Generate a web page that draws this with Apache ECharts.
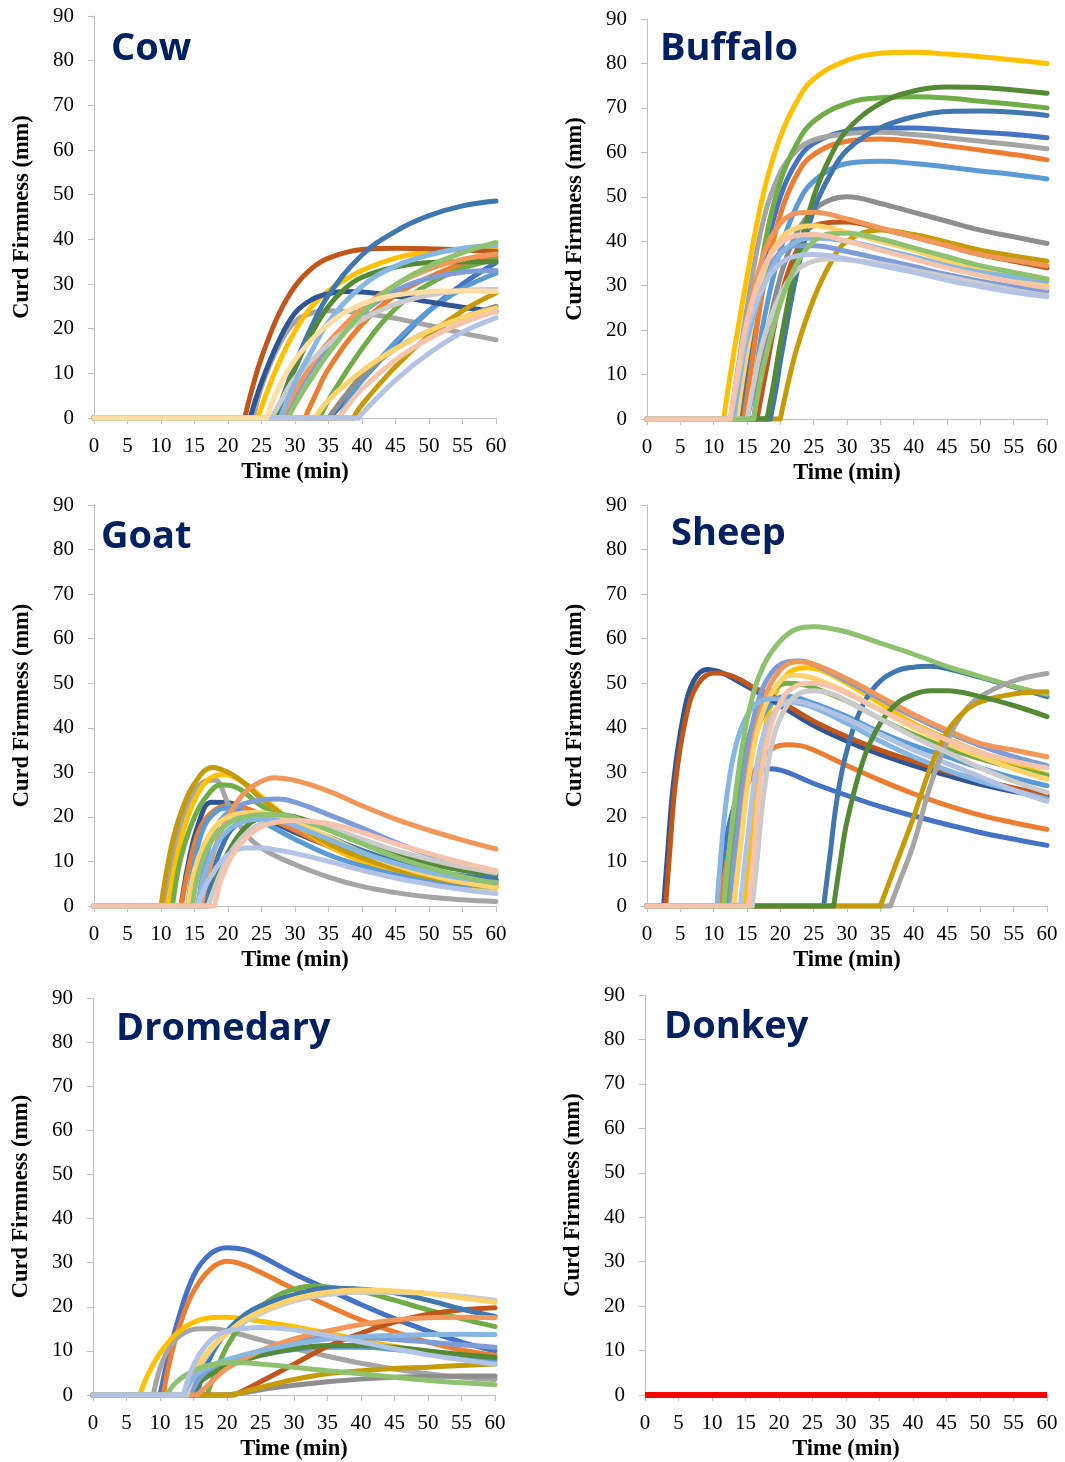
<!DOCTYPE html>
<html><head><meta charset="utf-8">
<script src="https://cdn.jsdelivr.net/npm/echarts@6/dist/echarts.min.js"></script>
<style>html,body{margin:0;padding:0;background:#fff}#c{width:1065px;height:1462px}</style>
</head><body><div id="c"></div>
<script>
// ---------- labels ----------
const panelNames = ['Cow', 'Buffalo', 'Goat', 'Sheep', 'Dromedary', 'Donkey'];
const xAxisTitle = 'Time (min)';
const yAxisTitle = 'Curd Firmness (mm)';
const timeRange = [0, 60, 5];
const firmRange = [0, 90, 10];

// ---------- palette ----------
const C = {
  blue: '#4472C4', orange: '#ED7D31', gray: '#A5A5A5', gold: '#FFC000', medBlue: '#5B9BD5', green: '#70AD47',
  darkBlue: '#2F5597', brown: '#C0561A', darkGray: '#8E8E8E', darkGold: '#C59B0A', steelBlue: '#3F77AE', darkGreen: '#548A35',
  lavender: '#7E9CD8', salmon: '#F1975A', lightGray: '#CBCBCB', lightGold: '#FFD36B', lightBlue: '#86B6E2', lightGreen: '#8FC26F',
  paleLavender: '#B3C3E6', paleSalmon: '#F6C4AC', peach: '#FFDDA3', red: '#FF0000'
};

// ---------- data: each curve = [time, firmness] points, from onset (firmness 0 before it) ----------
const cowColors = ['blue','orange','gray','gold','medBlue','green','darkBlue','brown','darkGray','darkGold','steelBlue','darkGreen','lavender','salmon','lightGray','lightGold','lightBlue','lightGreen','paleSalmon','paleLavender','peach'];
const cowCurves = [
  [[35.2,0],[37.5,4],[40,8.5],[45,16.5],[50,24],[55,30],[60,34.8]],
  [[31.5,0],[33,5],[35,11],[40,21],[45,27.5],[50,31.5],[55,34.5],[60,36]],
  [[23.8,0],[25,7],[27.5,16],[30,21.5],[32.5,23.5],[35,24],[40,23.5],[45,22.3],[50,20.7],[55,19],[60,17.5]],
  [[24.5,0],[25.5,4.5],[27.5,12],[30,19.5],[32.5,25],[35,28.5],[40,33],[45,35.8],[50,37.2],[55,37.7],[60,37.7]],
  [[36.7,0],[38,4],[40,8.5],[45,17],[50,24],[55,29],[60,32.4]],
  [[33.7,0],[35,4],[40,15.5],[45,24.5],[50,30],[55,33.5],[60,35.5]],
  [[23.3,0],[25,8],[27.5,17],[30,23.5],[32.5,26.5],[35,27.8],[37.5,28.3],[40,28.2],[45,27.3],[50,26],[55,24.8],[60,23.8]],
  [[22.5,0],[23.5,6],[25,13.5],[27.5,23],[30,29.5],[32.5,33.5],[35,35.8],[40,37.7],[45,38],[50,37.9],[55,37.6],[60,37.3]],
  [[35,0],[37.5,5],[40,9.5],[45,15.5],[50,19.5],[55,22.5],[60,25]],
  [[38.7,0],[40,3],[45,11.5],[50,18.5],[55,24],[60,28]],
  [[27.3,0],[28.5,6],[30,12],[32.5,20.5],[35,27.5],[40,36.5],[45,41.8],[50,45.3],[55,47.5],[60,48.6]],
  [[27,0],[28,4],[30,11],[32.5,19],[35,25],[37.5,29],[40,31.5],[45,33.8],[50,34.8],[55,35],[60,35]],
  [[28.5,0],[30,5],[32.5,11],[35,16],[40,23.5],[45,28.5],[50,31.3],[55,32.6],[60,33]],
  [[28,0],[30,6],[32.5,12],[35,17],[40,24.5],[45,29.8],[50,33.3],[55,35.5],[60,36.7]],
  [[26.5,0],[28,4],[30,9],[35,16.5],[40,22],[45,25.5],[50,27.5],[55,28.5],[60,28.8]],
  [[33,0],[35,4],[40,10.5],[45,15.5],[50,19.5],[55,22.5],[60,24.6]],
  [[27.8,0],[30,8],[32.5,15],[35,21.5],[40,29.5],[45,34],[50,36.5],[55,38],[60,38.6]],
  [[29,0],[30,3],[32.5,9],[35,14.5],[40,23.5],[45,29.8],[50,34],[55,37],[60,39.3]],
  [[36.5,0],[38,3],[40,6.5],[45,13],[50,17.8],[55,21.3],[60,23.8]],
  [[39.5,0],[40,1],[45,8.5],[50,14.5],[55,19.2],[60,22.4]],
  [[25.8,0],[27,5],[30,13],[35,21],[40,25.5],[45,27.5],[50,28.3],[55,28.5],[60,28.3]]
];

const buffaloColors = ['blue','orange','gray','gold','medBlue','green','brown','darkGray','darkGold','steelBlue','darkGreen','lavender','salmon','lightGray','lightGold','lightBlue','lightGreen','paleLavender','paleSalmon'];
const buffaloCurves = [
  [[14,0],[15,12],[17.5,35],[20,50],[22.5,58],[25,62],[30,64.8],[35,65.5],[40,65.5],[45,65],[50,64.5],[55,64],[60,63.3]],
  [[14.5,0],[15.5,10],[17.5,30],[20,46],[22.5,55],[25,59.5],[30,62.5],[35,63],[40,62.5],[45,61.5],[50,60.5],[55,59.5],[60,58.3]],
  [[12.5,0],[14,15],[15,25],[17.5,45],[20,55.5],[22.5,60.5],[25,62.8],[30,64.2],[35,64.5],[40,64],[45,63.3],[50,62.5],[55,61.7],[60,60.8]],
  [[11.5,0],[12.5,10],[15,32],[17.5,51],[20,63.5],[22.5,71.5],[25,76.5],[30,80.7],[35,82.3],[40,82.5],[45,82.1],[50,81.5],[55,80.8],[60,80]],
  [[15,0],[16,7],[17.5,22],[20,38],[22.5,48],[25,53.5],[30,57.5],[35,58],[40,57.5],[45,56.7],[50,55.8],[55,55],[60,54]],
  [[13.5,0],[15,15],[17.5,38],[20,53.5],[22.5,62],[25,67],[30,71],[35,72.3],[40,72.5],[45,72.2],[50,71.5],[55,70.8],[60,70]],
  [[16.5,0],[18,12],[20,27],[22.5,38],[25,43.5],[30,44.3],[35,42.8],[40,41],[45,39],[50,37],[55,35.5],[60,34]],
  [[16,0],[17.5,15],[20,32],[22.5,42],[25,47],[27.5,49.3],[30,50],[35,48.5],[40,46.5],[45,44.5],[50,42.5],[55,41],[60,39.5]],
  [[20,0],[21,7],[22.5,16],[25,27],[27.5,35],[30,40],[35,42.5],[40,41.5],[45,39.8],[50,38],[55,36.7],[60,35.5]],
  [[18.5,0],[19.5,8],[20,13],[22.5,33],[25,47],[27.5,55],[30,60.5],[35,65.5],[40,68],[45,69.2],[50,69.3],[55,69],[60,68.3]],
  [[18,0],[19,8],[20,17],[22.5,36],[25,50],[27.5,59],[30,65],[35,71],[40,73.8],[45,74.7],[50,74.6],[55,74],[60,73.3]],
  [[13.3,0],[15,17],[17.5,31],[20,37.5],[22.5,39],[25,39],[30,37.7],[35,36],[40,34.3],[45,32.5],[50,31],[55,29.8],[60,28.8]],
  [[12.8,0],[14,12],[15,22],[17.5,37],[20,44],[22.5,46.3],[25,46.5],[30,45],[35,43],[40,41],[45,39],[50,37],[55,35.7],[60,34.5]],
  [[15,0],[16,8],[17.5,18],[20,28],[22.5,33.5],[25,35.5],[27.5,36],[30,35.8],[35,35],[40,33.5],[45,32],[50,30.5],[55,29],[60,27.8]],
  [[13.5,0],[15,15],[17.5,33],[20,40.5],[22.5,43],[25,43.5],[30,42],[35,40],[40,38],[45,35.5],[50,33.5],[55,31.8],[60,30]],
  [[13,0],[14,10],[15,18],[17.5,30],[20,37],[22.5,40],[25,40.7],[30,40],[35,38.3],[40,36.5],[45,34.5],[50,33],[55,32],[60,31]],
  [[16,0],[17.5,12],[20,26],[22.5,35],[25,40],[27.5,41.7],[30,41.8],[35,40.5],[40,38.5],[45,36.5],[50,34.5],[55,33],[60,31.5]],
  [[12.5,0],[14,12],[15,20],[17.5,30],[20,35],[22.5,36.7],[25,37],[30,36],[35,34.5],[40,33],[45,31.2],[50,29.8],[55,28.5],[60,27.5]],
  [[12.5,0],[14,14],[15,22],[17.5,34],[20,39.5],[22.5,41.3],[25,41.5],[30,40],[35,38],[40,36],[45,34],[50,32.3],[55,30.8],[60,29.5]]
];

const goatColors = ['darkBlue','orange','gray','gold','medBlue','green','darkGold','darkGreen','steelBlue','lavender','salmon','lightGray','lightGold','lightBlue','lightGreen','paleLavender','paleSalmon'];
const goatCurves = [
  [[13,0],[14,9],[15.5,18],[17.5,23.3],[20,23.2],[22.5,22],[25,20],[30,16.5],[35,13.5],[40,11],[45,9],[50,7.5],[55,6.5],[60,5.8]],
  [[13,0],[14.5,11],[16,18],[18,21.5],[20,22.5],[22.5,22],[25,20.5],[30,17],[35,13.5],[40,10.8],[45,8.7],[50,7],[55,5.8],[60,5]],
  [[10.5,0],[12,13],[14,23],[16,27.5],[18,28.3],[20,23],[22.5,16.5],[25,13],[30,9.3],[35,6.5],[40,4.4],[45,3],[50,2],[55,1.4],[60,1]],
  [[11,0],[12.5,12],[14,20],[16,26.5],[18,29.2],[19.5,29.5],[22.5,27.5],[25,24.5],[30,18.5],[35,13.5],[40,10],[45,7.5],[50,5.8],[55,4.7],[60,4]],
  [[14,0],[15,10],[16.5,18],[18.5,21.5],[20,22],[22.5,21],[25,19],[30,15],[35,11.5],[40,9],[45,7],[50,5.6],[55,4.8],[60,4.3]],
  [[11.7,0],[13,11],[15,20],[17,25],[19,27.2],[21,26.8],[25,22.5],[30,18.5],[35,14.5],[40,11.5],[45,9.5],[50,7.8],[55,6.5],[60,5.5]],
  [[10,0],[11.5,13],[13,21],[15,27.5],[17.7,31.1],[20,30],[22.5,27.5],[25,24],[30,18.5],[35,14],[40,10.8],[45,8.3],[50,6.5],[55,5.2],[60,4.3]],
  [[17,0],[18,5],[20,12],[22.5,17.5],[25,20],[27.5,20.5],[30,20],[35,17.5],[40,14.5],[45,11.8],[50,9.6],[55,8],[60,6.8]],
  [[16.5,0],[17.5,6],[19,13],[21,18],[24,20],[27,19.8],[30,18.5],[35,15.5],[40,12.5],[45,10],[50,8],[55,6.8],[60,6]],
  [[15.5,0],[16.5,9],[18,17],[20,21],[22.5,23],[25,23.8],[27.5,24],[30,23.3],[35,20.5],[40,17.5],[45,14.3],[50,11.5],[55,9.2],[60,7.3]],
  [[16,0],[17,7],[18.5,15],[20,20],[22.5,25.5],[25,28],[27,28.8],[30,28.2],[35,25.8],[40,22.5],[45,19.5],[50,17],[55,14.8],[60,12.8]],
  [[17,0],[18,4],[20,11],[22.5,16],[25,18.5],[28,19.5],[30,19.3],[35,17.5],[40,15],[45,12.5],[50,10.5],[55,8.8],[60,7.5]],
  [[14,0],[15,8],[16.5,14],[18.5,18.5],[21,20.5],[24,21],[27,20.5],[30,19],[35,15.5],[40,12],[45,9.2],[50,7],[55,5.3],[60,4.2]],
  [[15.5,0],[16.5,7],[18,13],[20,17],[22.5,19],[25,19.5],[28,19],[30,18],[35,15],[40,12],[45,9.6],[50,7.6],[55,6.2],[60,5.3]],
  [[14.7,0],[15.7,8],[17.5,14.5],[20,18.5],[22.5,20],[25,20.5],[27.5,20.5],[30,19.8],[35,17],[40,14],[45,11],[50,8.6],[55,6.6],[60,5.1]],
  [[15.5,0],[16.5,4],[18,8],[20,11.5],[22.5,13],[25,13],[27.5,12.5],[30,11.8],[35,10],[40,8],[45,6.3],[50,4.9],[55,3.7],[60,2.8]],
  [[18,0],[19,6],[20.5,11],[22.5,15],[25,17.8],[28,19],[30,19.2],[35,18.5],[40,16.5],[45,14],[50,11.8],[55,9.7],[60,7.9]]
];

const sheepColors = ['blue','orange','gold','medBlue','green','darkBlue','brown','steelBlue','lavender','salmon','lightGold','lightBlue','lightGreen','paleLavender','gray','darkGold','darkGreen','lightGray','paleSalmon'];
const sheepCurves = [
  [[10.5,0],[11.2,8],[12,16],[13.5,24],[15.5,28.5],[18,30.8],[20,30.5],[25,27.5],[30,24.8],[35,22.3],[40,20.2],[45,18.3],[50,16.5],[55,15],[60,13.6]],
  [[11,0],[12,10],[13.5,20],[15,27],[17,32.5],[19,35.5],[21,36.2],[23,36],[25,35],[30,31.5],[35,28.2],[40,25.2],[45,22.6],[50,20.4],[55,18.7],[60,17.2]],
  [[14.5,0],[15.5,12],[16.5,28],[18,42],[20,50],[22,53],[24,53.5],[26,53],[30,50],[35,45.5],[40,41],[45,37.5],[50,34.5],[55,31.8],[60,29.5]],
  [[13,0],[14,15],[15.5,32],[17,41.5],[19,46],[21,47],[25,45.5],[30,42.5],[35,39],[40,36],[45,33.5],[50,31],[55,28.8],[60,27]],
  [[12,0],[13,14],[14.5,32],[16.5,43.5],[19,48.5],[21,50],[23,49.8],[25,49],[30,46],[35,42],[40,38.5],[45,35.5],[50,33],[55,31],[60,29.3]],
  [[2.5,0],[3,10],[4,28],[5.5,43],[7,50.5],[9,53.1],[11,52.5],[13,51],[15,49.3],[17.5,47.3],[20,45],[25,40.5],[30,37],[35,34],[40,31.5],[45,29.3],[50,27.3],[55,25.7],[60,24.5]],
  [[2.8,0],[3.3,10],[4.3,28],[5.8,42],[7.5,49.5],[10,52.3],[12,52],[14,50.8],[16,49],[18,47.8],[20,46],[25,41.5],[30,38],[35,35],[40,32.5],[45,30.2],[50,28.3],[55,26.5],[60,25]],
  [[26.5,0],[27.5,12],[28.5,24],[30,35],[32.5,45.5],[35,50.5],[37.5,52.8],[40,53.6],[42.5,53.8],[45,53.3],[50,51.3],[55,49.2],[60,47]],
  [[12.5,0],[13.5,16],[15,34],[16.5,45],[18.5,52],[21,54.8],[23,55],[25,54.2],[30,50.5],[35,46.5],[40,42.5],[45,39],[50,36],[55,33.5],[60,31.5]],
  [[13,0],[14,14],[15.5,33],[17.5,46],[20,53],[22.5,54.8],[25,54.3],[30,51],[35,47],[40,43],[45,39.5],[50,36.5],[55,35],[60,33.5]],
  [[13,0],[14,13],[15.5,31],[17.5,44],[20,50.5],[22,51.8],[24,51.5],[27,50],[30,48],[35,44],[40,40],[45,36.5],[50,33.5],[55,30.8],[60,28.5]],
  [[10.5,0],[11,10],[12,25],[13.5,37],[15.5,44],[17.5,46.3],[19,46.5],[21,46],[25,44.5],[30,41],[35,37],[40,33.5],[45,30.5],[50,28],[55,26],[60,24]],
  [[11.5,0],[12.5,15],[14,33],[15.5,45],[17.5,54],[20,59.5],[22.5,62.2],[25,62.7],[27.5,62.3],[30,61.5],[35,59],[40,56.5],[45,53.8],[50,51.5],[55,49.3],[60,47.5]],
  [[14,0],[15,14],[16.5,32],[18,40.5],[20,45],[22,46],[25,45],[30,42],[35,38.5],[40,35],[45,32],[50,29],[55,26],[60,23.5]],
  [[36.5,0],[37.5,4],[40,14],[42.5,27],[45,37],[47.5,43.5],[50,47],[55,50.5],[60,52.2]],
  [[35,0],[36,4],[37.5,10],[40,20],[42.5,31],[45,39],[47.5,43.5],[50,45.8],[55,47.6],[60,48.1]],
  [[28,0],[29,10],[30,19],[32.5,33],[35,41],[37.5,45.5],[40,47.5],[42.5,48.3],[45,48.3],[50,47],[55,45],[60,42.5]],
  [[15.8,0],[16.5,10],[17.5,25],[19,38],[21,45],[23,47.8],[25,48.3],[28,47.5],[30,46],[35,42],[40,38],[45,34.5],[50,31],[55,28],[60,25.5]],
  [[15.2,0],[16,12],[17,28],[18.5,40],[20.5,47],[22.5,49.5],[24.5,50],[27,49.5],[30,47.7],[35,44],[40,40.5],[45,37.3],[50,34.5],[55,32.5],[60,31]]
];

const dromedaryColors = ['blue','orange','gray','gold','medBlue','green','brown','darkGray','darkGold','steelBlue','darkGreen','lavender','salmon','lightGray','lightGold','lightBlue','lightGreen','paleLavender'];
const dromedaryCurves = [
  [[10,0],[11,7],[12.5,16],[15,27],[17.5,32],[20,33.4],[22.5,33],[25,31.5],[30,27.5],[35,24],[40,20.5],[45,17.3],[50,14.5],[55,12],[60,10]],
  [[10.5,0],[11.5,8],[13,16],[15,23.5],[17.5,28.5],[20,30.3],[22.5,29.5],[25,27.8],[30,24],[35,20.3],[40,17],[45,14.3],[50,12],[55,10.2],[60,9]],
  [[9,0],[10,6],[11.5,11],[13.5,14],[16,15],[18,15],[20,14.5],[25,12.5],[30,10.5],[35,8.8],[40,7.2],[45,5.9],[50,4.8],[55,4],[60,3.5]],
  [[7,0],[8,4],[10,9.5],[12.5,14],[15,16.5],[17.5,17.5],[20,17.6],[22.5,17.3],[25,16.7],[30,15.5],[35,14],[40,12.5],[45,11],[50,9.7],[55,8.5],[60,7.5]],
  [[14,0],[15,3],[17.5,5.5],[20,7],[25,9],[30,10.3],[35,10.8],[40,10.8],[45,10.3],[50,9.5],[55,8.7],[60,8]],
  [[17,0],[18,4],[20,11],[22.5,16.5],[25,20],[27.5,22.5],[30,24],[33,24.7],[35,24.5],[40,23.5],[45,21.5],[50,19.3],[55,17.3],[60,15.5]],
  [[21,0],[22.5,1],[25,3],[30,7],[35,11],[40,14],[45,16.5],[50,18.3],[55,19.3],[60,19.8]],
  [[20,0],[22.5,0.5],[25,1.2],[30,2.2],[35,3],[40,3.6],[45,4],[50,4.2],[55,4.3],[60,4.3]],
  [[21,0],[22.5,0.7],[25,1.7],[30,3.5],[35,4.8],[40,5.5],[45,6],[50,6.3],[55,6.7],[60,7]],
  [[15.5,0],[16.5,5],[18,10],[20,14.5],[22.5,18],[25,20.2],[30,22.7],[35,24.2],[40,24],[45,23.2],[50,21.5],[55,19.5],[60,17.8]],
  [[14.5,0],[16,3],[18,5],[20,6.5],[25,9],[30,10.5],[35,11.2],[40,11.2],[45,10.8],[50,10],[55,9.2],[60,8.5]],
  [[14.5,0],[16,4],[18,6.5],[20,7.8],[25,10],[30,12],[35,13],[40,13],[45,12.6],[50,12],[55,11.4],[60,10.8]],
  [[15.5,0],[17,2],[20,6],[25,10],[30,12.7],[35,14.5],[40,16],[45,17],[50,17.5],[55,17.6],[60,17.5]],
  [[14,0],[15,4],[17.5,10],[20,14],[25,18.5],[30,21.3],[35,22.8],[40,23.3],[45,23.3],[50,23],[55,22.4],[60,21.5]],
  [[13.5,0],[15,5],[17.5,10.5],[20,14],[22.5,17],[25,19],[30,21.8],[35,23.3],[40,23.8],[45,23.6],[50,23],[55,22],[60,21]],
  [[13.5,0],[15,4],[17.5,6.5],[20,8],[25,10],[30,11.5],[35,12.7],[40,13.2],[45,13.5],[50,13.7],[55,13.8],[60,13.7]],
  [[11,0],[12.5,3],[15,5.5],[17.5,6.8],[20,7.3],[22.5,7.3],[25,7],[30,6.3],[35,5.5],[40,4.8],[45,4],[50,3.3],[55,2.8],[60,2.3]],
  [[13.5,0],[14.5,5],[16,9.5],[18,13],[20,14.5],[22.5,15.1],[25,15.3],[30,14.8],[35,13.5],[40,12],[45,10.5],[50,9.1],[55,8],[60,7]]
];

const donkeyColors = ['red'];
const donkeyCurves = [
  [[0,0],[60,0]]
];

// ---------- layout ----------
const grids = [
  { left: 94,  top: 16,  width: 402, height: 402 },
  { left: 647, top: 19,  width: 400, height: 400 },
  { left: 94,  top: 505, width: 402, height: 401 },
  { left: 647, top: 505, width: 400, height: 401 },
  { left: 93,  top: 998, width: 402, height: 400 },
  { left: 645, top: 995, width: 402, height: 402 }
];
const titlePos = [[111,30],[660,30],[101,518],[671,515],[116,1010],[664,1008]];

const panels = [
  [cowCurves, cowColors], [buffaloCurves, buffaloColors], [goatCurves, goatColors],
  [sheepCurves, sheepColors], [dromedaryCurves, dromedaryColors], [donkeyCurves, donkeyColors]
];

const serif = "'Liberation Serif', 'Times New Roman', serif";
const axisCol = '#BFBFBF';

const xAxes = grids.map((g, i) => ({
  type: 'value', gridIndex: i, min: timeRange[0], max: timeRange[1], interval: timeRange[2],
  axisLine: { show: true, onZero: false, lineStyle: { color: axisCol, width: 1 } },
  axisTick: { show: true, length: 6, lineStyle: { color: axisCol } },
  splitLine: { show: false },
  axisLabel: { fontFamily: serif, fontSize: 21, color: '#000', margin: 18, showMinLabel: true, showMaxLabel: true, hideOverlap: false },
  name: xAxisTitle, nameLocation: 'middle', nameGap: 43,
  nameTextStyle: { fontFamily: serif, fontSize: 22.5, fontWeight: 'bold', color: '#000' }
}));
const yAxes = grids.map((g, i) => ({
  type: 'value', gridIndex: i, min: firmRange[0], max: firmRange[1], interval: firmRange[2],
  axisLine: { show: true, lineStyle: { color: axisCol, width: 1 } },
  axisTick: { show: true, length: 6, lineStyle: { color: axisCol } },
  splitLine: { show: false },
  axisLabel: { fontFamily: serif, fontSize: 21, color: '#000', margin: 20 },
  name: yAxisTitle, nameLocation: 'middle', nameGap: 60, nameRotate: 90,
  nameTextStyle: { fontFamily: serif, fontSize: 22.5, fontWeight: 'bold', color: '#000' }
}));

const series = [];
panels.forEach(([curves, colors], pi) => {
  curves.forEach((pts, ci) => {
    const onset = pts[0][0];
    const data = onset > 0 ? [[0, 0], [onset, 0], [onset, '-']].concat(pts) : pts;
    const col = C[colors[ci]];
    series.push({
      type: 'line', xAxisIndex: pi, yAxisIndex: pi, data: data,
      smooth: 0.4, symbol: 'none', showSymbol: false, clip: false, silent: true,
      connectNulls: false,
      lineStyle: { color: col, width: pi === 5 ? 6 : 5, cap: pi === 5 ? 'butt' : 'round', join: 'round' },
      itemStyle: { color: col },
      emphasis: { disabled: true }
    });
  });
});

const titles = panelNames.map((n, i) => ({
  text: n, left: titlePos[i][0], top: titlePos[i][1], padding: 0,
  textStyle: { fontFamily: "'Open Sans', 'Noto Sans', sans-serif", fontSize: 38, fontWeight: 'bold', color: '#002060' }
}));

const chart = echarts.init(document.getElementById('c'), null, { renderer: 'canvas' });
chart.setOption({
  backgroundColor: '#ffffff',
  animation: false,
  title: titles,
  grid: grids,
  xAxis: xAxes,
  yAxis: yAxes,
  series: series
});
</script>
</body></html>
